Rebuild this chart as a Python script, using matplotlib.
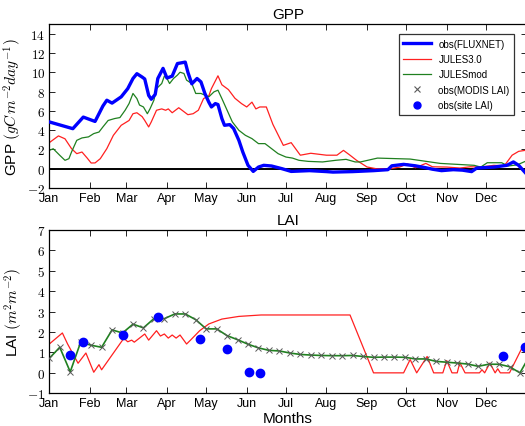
import matplotlib
matplotlib.use("Agg")
import matplotlib.pyplot as plt
from matplotlib.ticker import FuncFormatter
import numpy as np

plt.rcParams['font.family'] = ['Liberation Sans', 'DejaVu Sans']
plt.rcParams['mathtext.fontset'] = 'cm'

# ---------------- data ----------------
month_days = [0, 31, 59, 90, 120, 151, 181, 212, 243, 273, 304, 334]
month_labels = ['Jan', 'Feb', 'Mar', 'Apr', 'May', 'Jun', 'Jul', 'Aug', 'Sep', 'Oct', 'Nov', 'Dec']

# GPP obs (FLUXNET)
gpp_obs_day = [0, 18, 26, 35, 41, 44, 48, 55, 60, 64, 67, 71, 73, 76, 78, 81, 83, 87, 90, 94, 98,
               104, 106, 109, 113, 116, 119, 122, 124, 127, 129, 132, 134, 138, 141, 145, 148, 152,
               156, 160, 164, 170, 178, 185, 199, 212, 217, 232, 248, 259, 262, 271, 280, 288, 293,
               300, 309, 316, 323, 327, 340, 350, 355, 359, 364]
gpp_obs = [4.85, 4.15, 5.35, 4.9, 6.5, 7.1, 6.8, 7.45, 8.3, 9.35, 9.85, 9.5, 9.3, 7.6, 7.2, 7.7,
           9.35, 10.4, 9.4, 9.6, 10.9, 11.05, 10.0, 8.8, 9.35, 9.0, 7.8, 6.9, 6.4, 6.75, 6.65, 5.2,
           4.5, 4.57, 4.16, 2.94, 1.73, 0.35, -0.28, 0.17, 0.35, 0.28, 0.0, -0.28, -0.2, -0.3,
           -0.35, -0.3, -0.2, -0.1, 0.3, 0.45, 0.3, 0.1, -0.05, -0.2, -0.1, -0.15, -0.3, 0.07,
           0.17, 0.35, 0.7, 0.35, -0.4]

# GPP JULES3.0
gpp_j3_day = [0, 7, 12, 17, 21, 25, 29, 32, 35, 39, 44, 49, 55, 61, 64, 67, 71, 73, 76, 78, 82,
              86, 89, 91, 94, 99, 106, 110, 114, 118, 122, 124, 129, 132, 137, 142, 147, 151, 155,
              158, 161, 166, 171, 179, 185, 192, 200, 212, 220, 225, 230, 235, 243, 250, 261, 268,
              274, 280, 288, 293, 304, 314, 322, 330, 340, 348, 354, 359, 364]
gpp_j3 = [2.7, 3.4, 3.1, 2.08, 1.56, 1.73, 1.1, 0.59, 0.6, 1.04, 2.08, 3.46, 4.5, 5.0, 5.7, 5.8,
          5.4, 5.0, 4.33, 4.85, 6.06, 6.2, 6.06, 6.2, 5.8, 6.32, 5.6, 5.7, 6.06, 7.27, 7.55, 8.3,
          9.63, 8.7, 8.2, 7.3, 6.75, 6.4, 6.9, 6.2, 6.4, 6.4, 4.6, 2.42, 2.7, 1.4, 1.6, 1.4, 1.4,
          1.9, 1.4, 0.87, 0.18, 0.0, 0.0, 0.17, 0.5, 0.1, 0.55, 0.2, 0.17, 0.07, 0.2, 0.17, 0.35,
          0.3, 1.4, 1.8, 1.9]

# GPP JULESmod
gpp_jm_day = [0, 3, 8, 12, 15, 17, 21, 25, 30, 34, 38, 41, 45, 50, 54, 58, 61, 64, 67, 69, 72,
              75, 77, 80, 82, 86, 88, 90, 92, 95, 98, 100, 103, 105, 109, 112, 116, 122, 126, 129,
              132, 136, 140, 145, 150, 155, 160, 165, 170, 175, 181, 186, 191, 198, 209, 219, 227,
              234, 238, 251, 276, 299, 325, 330, 335, 346, 351, 358, 364]
gpp_jm = [1.9, 2.07, 1.39, 0.87, 1.04, 1.73, 2.94, 3.19, 3.3, 3.64, 3.8, 4.33, 5.0, 5.2, 5.3,
          6.06, 6.75, 7.8, 7.27, 6.6, 6.4, 5.7, 6.2, 7.1, 8.3, 8.83, 9.6, 9.35, 8.83, 9.35, 9.7,
          10.0, 9.87, 9.18, 8.83, 7.8, 7.8, 7.45, 7.97, 8.14, 7.27, 6.06, 4.85, 3.98, 3.46, 3.12,
          2.6, 2.6, 2.08, 1.56, 1.21, 1.1, 0.87, 0.76, 0.7, 0.87, 0.97, 0.7, 0.7, 1.1, 1.0, 0.55,
          0.35, 0.17, 0.62, 0.62, 0.28, 0.4, 0.76]

# LAI MODIS (8-day)
modis_day = list(range(0, 361, 8))
modis_lai = [0.71, 1.25, 0.05, 1.5, 1.35, 1.25, 2.1, 1.95, 2.38, 2.2, 2.65, 2.65, 2.88, 2.88,
             2.6, 2.15, 2.15, 1.82, 1.62, 1.4, 1.22, 1.1, 1.07, 0.97, 0.9, 0.87, 0.85, 0.84,
             0.84, 0.85, 0.8, 0.76, 0.77, 0.77, 0.76, 0.68, 0.68, 0.56, 0.52, 0.48, 0.43, 0.32,
             0.42, 0.42, 0.3, 0.0]

# LAI JULESmod
lai_jm_day = modis_day + [364]
lai_jm = modis_lai + [0.45]

# LAI JULES3.0
lai_j3_day = [0, 10, 14, 22, 28, 34, 38, 40, 57, 60, 63, 65, 73, 76, 82, 85, 88, 91, 94, 97,
              100, 105, 108, 115, 122, 132, 145, 162, 230, 248, 271, 276, 281, 289, 294, 301,
              304, 308, 312, 314, 316, 318, 329, 331, 333, 337, 341, 343, 345, 352, 361, 364]
lai_j3 = [1.41, 1.95, 1.41, 0.47, 0.97, 0.03, 0.4, 0.15, 1.69, 1.52, 1.6, 1.5, 1.9, 1.6, 2.06,
          1.8, 1.9, 1.7, 1.85, 1.7, 1.85, 1.41, 1.6, 2.06, 2.39, 2.63, 2.76, 2.83, 2.83, 0.0, 0.0,
          0.65, 0.0, 0.8, 0.0, 0.0, 0.6, 0.0, 0.0, 0.5, 0.25, 0.0, 0.0, 0.15, 0.0, 0.48, 0.0, 0.2,
          0.0, 0.0, 1.15, 1.4]

# LAI site obs
site_day = [16, 26, 56, 83, 115, 136, 153, 161, 347, 364]
site_lai = [0.89, 1.52, 1.87, 2.72, 1.64, 1.15, 0.03, 0.0, 0.81, 1.26]

# ---------------- figure ----------------
fig = plt.figure(figsize=(5.25, 4.27), dpi=100)
ax1 = fig.add_axes([49.3/525, 1-189/427, (526.5-49.3)/525, 164/427])
ax2 = fig.add_axes([49.3/525, 1-394.3/427, (526.5-49.3)/525, 163.6/427])

mfmt = FuncFormatter(lambda v, p: r'$%d$' % int(round(v)))

for ax in (ax1, ax2):
    ax.set_xlim(0, 365)
    ax.set_xticks(month_days)
    ax.set_xticklabels(month_labels, fontsize=9)
    ax.tick_params(direction='in', top=True, right=True, length=4, width=0.6, pad=3)
    ax.tick_params(axis='y', labelsize=9.5)
    ax.yaxis.set_major_formatter(mfmt)
    for s in ax.spines.values():
        s.set_linewidth(0.9)

# GPP panel
ax1.axhline(0, color='black', lw=1.4, zorder=1)
ax1.plot(gpp_obs_day, gpp_obs, color='#0000ff', lw=2.4, label='obs(FLUXNET)', zorder=3)
ax1.plot(gpp_j3_day, gpp_j3, color='#ff2020', lw=0.9, label='JULES3.0', zorder=2)
ax1.plot(gpp_jm_day, gpp_jm, color='#208020', lw=0.9, label='JULESmod', zorder=2)
ax1.plot([], [], ls='none', marker='x', color='0.35', ms=5, mew=0.8, label='obs(MODIS LAI)')
ax1.plot([], [], ls='none', marker='o', color='#0000ff', mec='#0000ff', ms=5, label='obs(site LAI)')
ax1.set_ylim(-2, 15)
ax1.set_yticks(range(-2, 15, 2))
ax1.set_title('GPP', fontsize=11, pad=4)
ax1.set_ylabel(r'GPP $(gC\,m^{-2}day^{-1})$', fontsize=11, labelpad=2)
leg = ax1.legend(loc='upper right', fontsize=7, numpoints=1, frameon=True, fancybox=False,
                 edgecolor='black', handlelength=2.8, borderpad=0.5, labelspacing=0.55,
                 bbox_to_anchor=(0.985, 0.97))
leg.get_frame().set_linewidth(0.9)

# LAI panel
ax2.plot(lai_j3_day, lai_j3, color='#ff2020', lw=0.9, zorder=2)
ax2.plot(lai_jm_day, lai_jm, color='#208020', lw=1.2, zorder=2)
ax2.plot(modis_day, modis_lai, ls='none', marker='x', color='0.35', ms=5, mew=0.7, zorder=3)
ax2.plot(site_day, site_lai, ls='none', marker='o', color='#0000ff', mec='#0000ff', ms=6, zorder=4)
ax2.set_ylim(-1, 7)
ax2.set_yticks(range(-1, 8))
ax2.set_title('LAI', fontsize=11, pad=4)
ax2.set_ylabel(r'LAI $(m^2m^{-2})$', fontsize=11, labelpad=2)
ax2.set_xlabel('Months', fontsize=11, labelpad=1)

fig.savefig('out.png', dpi=100)
